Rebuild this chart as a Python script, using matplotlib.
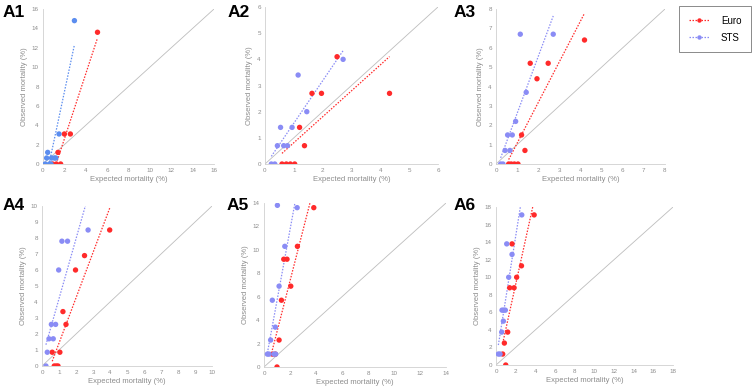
import numpy as np
import matplotlib
matplotlib.use("Agg")
import matplotlib.pyplot as plt
from matplotlib.lines import Line2D

plt.rcParams['font.family'] = ['Liberation Sans', 'DejaVu Sans']

panel_names = ["A1", "A2", "A3", "A4", "A5", "A6"]
axis_max = [16, 6, 8, 10, 14, 18]
tick_step = [2, 1, 1, 1, 2, 2]

# Euro (red) series: expected (x) and observed (y) mortality, %
euro_x_A1 = [5.1, 2.56, 2.0, 1.4, 0.9, 1.25, 1.65]
euro_y_A1 = [13.6, 3.1, 3.1, 1.2, 0, 0, 0]
sts_x_A1 = [2.94, 1.5, 0.44, 0.34, 0.8, 1.06, 1.2, 0.2, 0.6, 0.75]
sts_y_A1 = [14.8, 3.1, 1.2, 0.62, 0.62, 0.62, 0.62, 0, 0, 0]

euro_x_A2 = [2.5, 1.63, 1.96, 4.32, 1.2, 1.37, 0.59, 0.74, 0.88, 1.03]
euro_y_A2 = [4.1, 2.7, 2.7, 2.7, 1.4, 0.7, 0, 0, 0, 0]
sts_x_A2 = [2.71, 1.15, 1.45, 0.54, 0.94, 0.43, 0.65, 0.78, 0.22, 0.34]
sts_y_A2 = [4.0, 3.4, 2.0, 1.4, 1.4, 0.7, 0.7, 0.7, 0, 0]

euro_x_A3 = [4.19, 1.62, 2.47, 1.94, 1.21, 1.37, 0.6, 0.72, 0.87, 1.04]
euro_y_A3 = [6.4, 5.2, 5.2, 4.4, 1.5, 0.7, 0, 0, 0, 0]
sts_x_A3 = [1.15, 2.71, 1.43, 0.93, 0.55, 0.77, 0.43, 0.66, 0.22, 0.33]
sts_y_A3 = [6.7, 6.7, 3.7, 2.2, 1.5, 1.5, 0.7, 0.7, 0, 0]

euro_x_A4 = [3.98, 2.5, 1.97, 1.23, 1.41, 1.05, 0.6, 0.72, 0.84, 0.94]
euro_y_A4 = [8.5, 6.9, 6.0, 3.4, 2.6, 0.86, 0.86, 0, 0, 0]
sts_x_A4 = [2.71, 1.17, 1.5, 0.98, 0.55, 0.8, 0.41, 0.66, 0.31, 0.23]
sts_y_A4 = [8.5, 7.8, 7.8, 6.0, 2.6, 2.6, 1.7, 1.7, 0.86, 0]

euro_x_A5 = [3.83, 2.57, 1.52, 1.77, 2.06, 1.34, 1.16, 0.64, 0.87, 1.0]
euro_y_A5 = [13.6, 10.3, 9.2, 9.2, 6.9, 5.7, 2.3, 1.1, 1.1, 0]
sts_x_A5 = [1.03, 2.55, 1.6, 1.16, 0.64, 0.87, 0.51, 0.26, 0.39, 0.77, 0.9]
sts_y_A5 = [13.8, 13.6, 10.3, 6.9, 5.7, 3.4, 2.3, 1.1, 1.1, 1.1, 1.1]

euro_x_A6 = [3.88, 1.63, 2.59, 2.1, 1.39, 1.84, 1.19, 0.85, 0.68, 0.99]
euro_y_A6 = [17.1, 13.8, 11.3, 10.0, 8.8, 8.8, 3.75, 2.5, 1.25, 0]
sts_x_A6 = [2.62, 1.09, 1.63, 1.29, 0.61, 0.78, 0.95, 0.75, 0.58, 0.24, 0.41]
sts_y_A6 = [17.1, 13.8, 12.6, 10.0, 6.25, 6.25, 6.25, 5.0, 3.75, 1.25, 1.25]

euro_x = [euro_x_A1, euro_x_A2, euro_x_A3, euro_x_A4, euro_x_A5, euro_x_A6]
euro_y = [euro_y_A1, euro_y_A2, euro_y_A3, euro_y_A4, euro_y_A5, euro_y_A6]
sts_x = [sts_x_A1, sts_x_A2, sts_x_A3, sts_x_A4, sts_x_A5, sts_x_A6]
sts_y = [sts_y_A1, sts_y_A2, sts_y_A3, sts_y_A4, sts_y_A5, sts_y_A6]

RED = '#ff2a2a'
BLUE_A1 = '#5b8def'
BLUE = '#8a8cf5'
GRAY_TXT = '#8c8c8c'

positions = [
    (0.0571, 0.5762, 0.2271, 0.4005),
    (0.3519, 0.5762, 0.2297, 0.4057),
    (0.6587, 0.5762, 0.2244, 0.4005),
    (0.0558, 0.0543, 0.2258, 0.4134),
    (0.3506, 0.0517, 0.2417, 0.4238),
    (0.6587, 0.0568, 0.2351, 0.4083),
]

fig = plt.figure(figsize=(7.53, 3.87), dpi=100)

for i in range(6):
    ax = fig.add_axes(positions[i])
    m = axis_max[i]
    blue = BLUE_A1 if i == 0 else BLUE
    ax.plot([0, m], [0, m], color='#bdbdbd', lw=0.6, zorder=1)
    for xs, ys, c in ((euro_x[i], euro_y[i], RED), (sts_x[i], sts_y[i], blue)):
        xs = np.array(xs, float)
        ys = np.array(ys, float)
        k, b = np.polyfit(xs, ys, 1)
        xl = np.array([xs.min(), xs.max()])
        ax.plot(xl, k * xl + b, color=c, lw=0.9, ls=(0, (1.2, 1.2)), zorder=2)
        ax.scatter(xs, ys, s=15, color=c, edgecolors='none', zorder=3)
    ax.set_xlim(0, m)
    ax.set_ylim(0, m)
    ticks = np.arange(0, m + 0.01, tick_step[i])
    ax.set_xticks(ticks)
    ax.set_yticks(ticks)
    ax.set_xticklabels([f"{int(t)}" for t in ticks])
    ax.set_yticklabels([f"{int(t)}" for t in ticks])
    ax.tick_params(length=0, labelsize=4.5, colors=GRAY_TXT, pad=3)
    for s in ('top', 'right'):
        ax.spines[s].set_visible(False)
    for s in ('left', 'bottom'):
        ax.spines[s].set_color('#d0d0d0')
        ax.spines[s].set_linewidth(0.6)
    ax.set_xlabel("Expected mortality (%)", fontsize=5.5, color=GRAY_TXT, labelpad=2)
    ax.set_ylabel("Observed mortality (%)", fontsize=5.5, color=GRAY_TXT, labelpad=3)
    ax.set_facecolor('none')

# Panel labels
label_pos = [(3, 17), (228, 17), (454, 17), (3, 210), (227, 210), (454, 210)]
for name, (px, py) in zip(panel_names, label_pos):
    fig.text(px / 753, 1 - py / 387, name, fontsize=12.5, fontweight='bold',
             color='black', ha='left', va='baseline')

# Legend
handles = [
    Line2D([0], [0], color=RED, lw=0.9, ls=(0, (1.2, 1.2)), marker='o',
           markersize=3.2, markeredgewidth=0),
    Line2D([0], [0], color=BLUE, lw=0.9, ls=(0, (1.2, 1.2)), marker='o',
           markersize=3.2, markeredgewidth=0),
]
leg = fig.legend(handles, ["Euro", "STS"], loc='upper right',
                 bbox_to_anchor=(751 / 753, 1 - 6 / 387), fontsize=7, frameon=True,
                 fancybox=False, edgecolor='#555555', handlelength=2.2,
                 borderpad=1.0, labelspacing=0.7, handletextpad=1.1,
                 borderaxespad=0)
leg.get_frame().set_linewidth(0.6)

fig.savefig("out.png", dpi=100, facecolor='white')
